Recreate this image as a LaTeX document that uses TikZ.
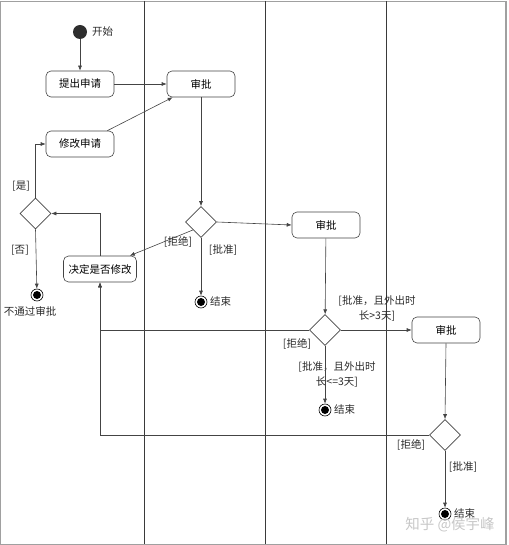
\documentclass[tikz,border=0pt]{standalone}
\usepackage{fontspec}
\setmainfont{Noto Sans CJK SC}
\usetikzlibrary{shapes.geometric,arrows.meta}
\definecolor{linegray}{HTML}{444444}
\definecolor{lanegray}{HTML}{3A3A3A}
\definecolor{framegray}{HTML}{A0A0A0}
\definecolor{textgray}{HTML}{2A2A2A}
\definecolor{darkdot}{HTML}{2E2E2E}

\begin{document}
\begin{tikzpicture}[x=1pt,y=-1pt,
    action/.style={draw=linegray, line width=0.6pt, rounded corners=5pt, minimum width=68pt, minimum height=26pt, inner sep=2pt, font=\fontsize{10.5}{12}\selectfont},
    choice/.style={diamond, draw=linegray, line width=0.6pt, minimum width=31pt, minimum height=31pt, inner sep=0pt},
    startdot/.style={circle, fill=darkdot, minimum size=14pt, inner sep=0pt},
    enddot/.style={circle, draw=black, line width=0.6pt, minimum size=12pt, inner sep=0pt,
        path picture={\fill[black] (path picture bounding box.center) circle (4pt);}},
    guard/.style={font=\fontsize{10.5}{15}\selectfont, text=textgray, align=center, inner sep=0pt},
    flow/.style={draw=linegray, line width=0.6pt, -{Latex[length=5pt,width=4pt]}},
    lane/.style={draw=lanegray, line width=0.8pt}]
    \useasboundingbox (0,0) rectangle (508,545);

    % Frame and lanes
    \draw[framegray, line width=0.8pt] (0.5,1) rectangle (506,544);
    \draw[framegray, line width=1.6pt] (506,1) -- (506,544);
    \draw[lane] (144,1) -- (144,544);
    \draw[lane] (265,1) -- (265,544);
    \draw[lane] (386,1) -- (386,544);

    % Lane 1
    \node[startdot] (start) at (80,32) {};
    \node[guard, anchor=west] (starttext) at (92,32) {开始};
    \node[action] (submit) at (80,84) {提出申请};
    \node[action] (modify) at (80,144) {修改申请};
    \node[choice] (d1) at (35.5,213.5) {};
    \node[enddot] (endno) at (37,295) {};
    \node[guard] (endnotext) at (30,311) {不通过审批};
    \node[action, minimum width=73pt] (decide) at (100,269) {决定是否修改};
    \node[guard] (yes1) at (21,186) {[是]};
    \node[guard] (no1) at (20,250) {[否]};

    % Lane 2
    \node[action] (audit1) at (201,84) {审批};
    \node[choice] (d2) at (201,222) {};
    \node[enddot] (end1) at (201,302) {};
    \node[guard, anchor=west] (end1text) at (210,302) {结束};
    \node[guard] (reject1) at (178,242) {[拒绝]};
    \node[guard] (pass1) at (223,250) {[批准]};

    % Lane 3
    \node[action] (audit2) at (326,225) {审批};
    \node[choice] (d3) at (325,330) {};
    \node[enddot] (end2) at (325,410) {};
    \node[guard, anchor=west] (end2text) at (334,410) {结束};
    \node[guard] (long2) at (377,308) {[批准，且外出时\\长>3天]};
    \node[guard] (reject2) at (297,344) {[拒绝]};
    \node[guard] (short2) at (337,374) {[批准，且外出时\\长<=3天]};

    % Lane 4
    \node[action] (audit3) at (446,330) {审批};
    \node[choice] (d4) at (445,435) {};
    \node[enddot] (end3) at (445,514) {};
    \node[guard, anchor=west] (end3text) at (454,513) {结束};
    \node[guard] (reject3) at (411,445) {[拒绝]};
    \node[guard] (pass3) at (463,467) {[批准]};
    \node[text=black!22, font=\fontsize{14.5}{16}\selectfont] (mark) at (450,525) {知乎 @侯宇峰};

    % Flows
    \draw[flow] (start) -- (submit);
    \draw[flow] (submit) -- (audit1);
    \draw[flow] ([xshift=-7pt]modify.north east) -- ([xshift=6pt]audit1.south west);
    \draw[flow] (d1.north) |- (modify.west);
    \draw[flow] (d1.south) -- (endno);
    \draw[flow] (decide.north) |- (d1.east);
    \draw[flow] (audit1) -- (d2);
    \draw[flow] (d2.south west) -- ([xshift=-7pt]decide.north east);
    \draw[flow] (d2.south) -- (end1);
    \draw[flow] (d2.east) -- (audit2.west);
    \draw[flow] (audit2) -- (d3);
    \draw[flow] (d3.east) -- (audit3.west);
    \draw[flow] (d3.south) -- (end2);
    \draw[flow] (d3.west) -| (decide.south);
    \draw[flow] (audit3.south) -- (d4.north);
    \draw[flow] (d4.west) -| (decide.south);
    \draw[flow] (d4.south) -- (end3);
\end{tikzpicture}
\end{document}
